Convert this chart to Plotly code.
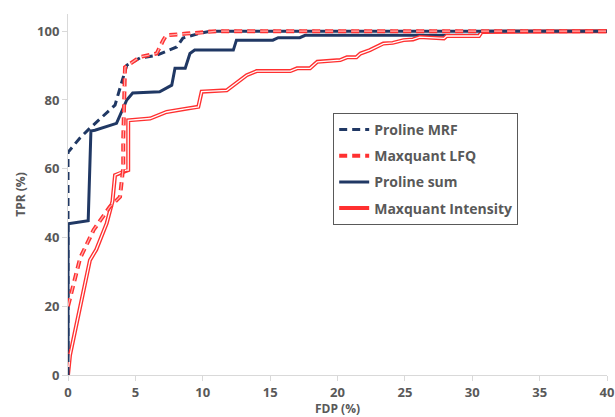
import plotly.graph_objects as go

# Proline MRF (dashed navy)
mrf_x = [0, 0, 0.9, 1.63, 3.49, 4.36, 5.34, 6.58, 8.07, 8.53, 9.8, 10.6, 40]
mrf_y = [0, 64.8, 69, 71.8, 78.5, 90.1, 92.2, 93.0, 95.4, 98, 99.4, 100, 100]

# Maxquant LFQ (dashed red)
lfq_x = [0, 0.9, 1.9, 3.1, 3.86, 4.1, 4.1, 4.23, 5.34, 6.58, 7.07, 7.3, 8.8, 9.8, 11.0, 40]
lfq_y = [20, 34, 42.2, 48.9, 51.8, 60.5, 68.3, 89.5, 92.5, 93.5, 97.4, 98.8, 99.3, 99.5, 100, 100]

# Proline sum (solid navy)
sum_x = [0, 0, 1.5, 1.7, 2.0, 3.6, 4.36, 4.8, 6.8, 7.7, 7.94, 8.7, 9.05, 9.4, 12.27, 12.5,
         15.2, 15.6, 17.2, 17.6, 30.5, 30.7, 40]
sum_y = [0, 44, 44.9, 71, 71.2, 73.2, 80, 82, 82.4, 84.3, 89.2, 89.2, 93.5, 94.5, 94.5, 97.4,
         97.4, 98.1, 98.1, 98.8, 98.8, 100, 100]

# Maxquant Intensity (double red)
int_x = [0, 0.15, 1.63, 2.1, 2.87, 3.3, 3.49, 4.3, 4.47, 4.47, 6.09, 7.32, 8.8, 9.67, 9.92,
         11.78, 13.26, 14.0, 16.5, 17.0, 17.96, 18.5, 20.2, 20.7, 21.4, 21.7, 22.4, 23.4,
         24.1, 24.9, 25.6, 26.1, 27.9, 28.1, 30.5, 30.7, 40]
int_y = [0, 5.8, 33.4, 36.5, 44.1, 50.5, 58.1, 59.6, 59.6, 74.1, 74.6, 76.5, 77.5, 78.0, 82.4,
         82.8, 87.2, 88.4, 88.4, 89.2, 89.2, 91.1, 91.6, 92.4, 92.4, 93.5, 94.5, 96.4,
         96.6, 97.4, 97.6, 98.3, 97.9, 98.6, 98.6, 99.8, 100]

x_ticks = [0, 5, 10, 15, 20, 25, 30, 35, 40]
y_ticks = [0, 20, 40, 60, 80, 100]

NAVY = "#203864"
RED = "#ff3030"
GRAY = "#595959"
FONT = "Open Sans"

fig = go.Figure()

fig.add_trace(go.Scatter(x=sum_x, y=sum_y, mode="lines", name="Proline sum",
                         legendgroup="c", line=dict(color=NAVY, width=3), legendrank=3))
fig.add_trace(go.Scatter(x=int_x, y=int_y, mode="lines", name="Maxquant Intensity",
                         legendgroup="d", line=dict(color=RED, width=4), legendrank=4))
fig.add_trace(go.Scatter(x=int_x, y=int_y, mode="lines", showlegend=False, legendgroup="d",
                         line=dict(color="white", width=1.3), hoverinfo="skip"))
fig.add_trace(go.Scatter(x=mrf_x, y=mrf_y, mode="lines", name="Proline MRF",
                         legendgroup="a",
                         line=dict(color=NAVY, width=3, dash="8px,5px"), legendrank=1))
fig.add_trace(go.Scatter(x=lfq_x, y=lfq_y, mode="lines", name="Maxquant LFQ",
                         legendgroup="b",
                         line=dict(color=RED, width=4, dash="8px,5px"), legendrank=2))
fig.add_trace(go.Scatter(x=lfq_x, y=lfq_y, mode="lines", showlegend=False, legendgroup="b",
                         line=dict(color="#ffb0b0", width=1.2, dash="8px,5px"), hoverinfo="skip"))

fig.update_layout(
    width=615, height=417,
    margin=dict(l=68, r=8, t=14, b=42),
    plot_bgcolor="white", paper_bgcolor="white",
    font=dict(family=FONT, color=GRAY, size=13),
    legend=dict(x=0.492, y=0.726, xanchor="left", yanchor="top",
                bordercolor=GRAY, borderwidth=1, bgcolor="white",
                font=dict(family=FONT, size=14, color=GRAY, weight="bold"),
                itemwidth=30, traceorder="grouped", tracegroupgap=5),
    showlegend=True,
)
fig.update_xaxes(range=[0, 40], tickvals=x_ticks, ticktext=[str(v) for v in x_ticks],
                 automargin=False,
                 showgrid=False, zeroline=False, showline=True, linecolor="#d9d9d9",
                 linewidth=1, ticks="outside", ticklen=5, tickcolor="#d9d9d9",
                 tickfont=dict(family=FONT, size=13, color=GRAY, weight="bold"),
                 title=dict(text="FDP (%)", standoff=0,
                            font=dict(family=FONT, size=12, color=GRAY, weight="bold")))
fig.update_yaxes(range=[0, 105], tickvals=y_ticks, ticktext=[str(v) for v in y_ticks],
                 automargin=False,
                 showgrid=False, zeroline=False, showline=True, linecolor="#d9d9d9",
                 linewidth=1, ticks="outside", ticklen=5, tickcolor="#d9d9d9",
                 tickfont=dict(family=FONT, size=13, color=GRAY, weight="bold"),
                 title=dict(text="TPR (%)", standoff=8,
                            font=dict(family=FONT, size=12, color=GRAY, weight="bold")))

fig.write_html("out.html")
